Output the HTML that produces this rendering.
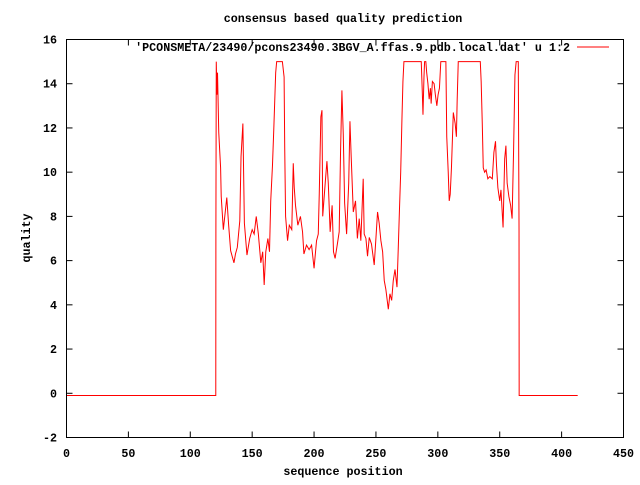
<!DOCTYPE html>
<html><head><meta charset="utf-8"><style>
body{margin:0;background:#fff}
svg text{font-family:"Liberation Mono",monospace;font-size:11.7px;fill:#000;font-weight:bold}
</style></head><body>
<svg id="chart" width="640" height="480" xmlns="http://www.w3.org/2000/svg">
<rect width="640" height="480" fill="#fff"/>
<text x="343" y="22" text-anchor="middle">consensus based quality prediction</text>
<text x="343" y="475" text-anchor="middle">sequence position</text>
<text transform="translate(30,238) rotate(-90)" text-anchor="middle">quality</text>
<g id="axes"></g>
<g id="series"></g>
<text x="570" y="51" text-anchor="end">'PCONSMETA/23490/pcons23490.3BGV_A.ffas.9.pdb.local.dat' u 1:2</text>
<line x1="577" y1="47" x2="609" y2="47" stroke="#f00" stroke-width="1"/>
<rect x="66.5" y="39.5" width="557" height="398" fill="none" stroke="#000" stroke-width="1"/>
</svg>
<script>
const xTicks=[0,50,100,150,200,250,300,350,400,450];
const yTicks=[-2,0,2,4,6,8,10,12,14,16];
const positions=[0,120.6,120.7,121,121.5,122,123,124.5,125,126.7,129.5,131,132.6,135.3,136.5,138,140,141,142.5,143.7,145.8,148,150,151.6,153.3,155,157,158.5,159.7,161,162.7,164,165,166.4,167.5,169,169.8,174.4,175.8,176.3,177,178.6,180,182,183.2,184,185,186.9,189,190.7,191.8,193.9,196,198,200,202,203.4,204.2,205.5,206.4,207,209,210.4,211.5,213,214.6,215.7,217,218.7,220.3,221.4,222.5,223.6,224.7,226.3,228,229,230,231.7,233.5,235,236.5,237.8,239.7,240.5,241.9,243.2,244.6,246.4,248.6,250.2,251.3,252.6,254,255.4,256.7,258,260,261.3,262.7,264,265.4,267,268,269,270,271,271.8,272.6,286.6,287.4,288,288.8,289.3,290.3,291,292,293,294,294.6,295.6,297,298,299.2,300.2,301.3,302.4,306.5,307.2,308.4,309.2,310,311,312.5,314,315,315.6,316.5,334.3,335,335.9,336.7,337.8,339,340.4,342,344,345.3,346.6,347.4,348.5,350,351,352.7,354,355,356,357.4,358.8,360,361.2,362.3,363.3,365,365.6,365.7,413];
const quality=[-0.1,-0.1,7.5,15,13.5,14.5,11.8,10.2,8.9,7.4,8.85,7.6,6.45,5.9,6.3,6.6,7.8,10.7,12.2,7.7,6.25,7,7.4,7.2,8,7.2,5.9,6.4,4.9,6.4,7,6.4,8.7,10.3,12,14.5,15,15,14.3,11.1,8,6.9,7.6,7.4,10.4,9.3,8.5,7.6,8,7.3,6.3,6.7,6.5,6.7,5.65,6.9,7.2,9,12.5,12.8,8,9.5,10.5,9.5,7.3,8.5,6.4,6.1,6.7,7.3,10.9,13.7,11.7,8.6,7.2,9.5,12.3,10.7,8.2,8.7,7,7.9,6.9,9.7,7.2,7,6.2,7.05,6.75,5.8,7.2,8.2,7.7,6.9,6.4,5.1,4.7,3.8,4.5,4.2,5.1,5.6,4.8,6.5,8.3,10,12.4,14.1,15,15,13.7,12.6,14.3,15,15,14.5,14,13.3,13.8,13.1,14.1,14,13.5,13,13.5,13.8,15,15,11.6,10,8.7,9,10.2,12.7,12.2,11.6,13.2,15,15,14.1,12.2,10.2,10,10.1,9.7,9.8,9.7,10.9,11.4,10.3,9.3,8.7,9.2,7.5,10.6,11.2,9.5,8.9,8.5,7.9,11,14.4,15,15,7.4,-0.1,-0.1];
const X0=66.5,X1=623.5,Y0=437.5,Y1=39.5;
const xs=v=>X0+(v-0)/(450-0)*(X1-X0);
const ys=v=>Y0-(v+2)/(18)*(Y0-Y1);
const NS='http://www.w3.org/2000/svg';
const axes=document.getElementById('axes');
function mk(tag,attrs,parent){const e=document.createElementNS(NS,tag);for(const k in attrs)e.setAttribute(k,attrs[k]);parent.appendChild(e);return e;}
xTicks.forEach(t=>{
  const x=xs(t);
  const a=mk('line',{x1:x,y1:Y0,x2:x,y2:Y0-6,stroke:'#000'},axes);
  
  
  const b=mk('line',{x1:x,y1:Y1,x2:x,y2:Y1+6,stroke:'#000'},axes);
  
  
  const l=mk('text',{x:x,y:457,'text-anchor':'middle'},axes);
  l.textContent=t;
  
  
});
yTicks.forEach(t=>{
  const y=ys(t);
  const a=mk('line',{x1:X0,y1:y,x2:X0+6,y2:y,stroke:'#000'},axes);
  
  
  const b=mk('line',{x1:X1,y1:y,x2:X1-6,y2:y,stroke:'#000'},axes);
  
  
  const l=mk('text',{x:57,y:y+4,'text-anchor':'end'},axes);
  l.textContent=t;
  
  
});
const pts=positions.map((p,i)=>xs(p).toFixed(2)+','+ys(quality[i]).toFixed(2)).join(' ');
const pl=mk('polyline',{points:pts,fill:'none',stroke:'#f00','stroke-width':1},document.getElementById('series'));


</script>
</body></html>
